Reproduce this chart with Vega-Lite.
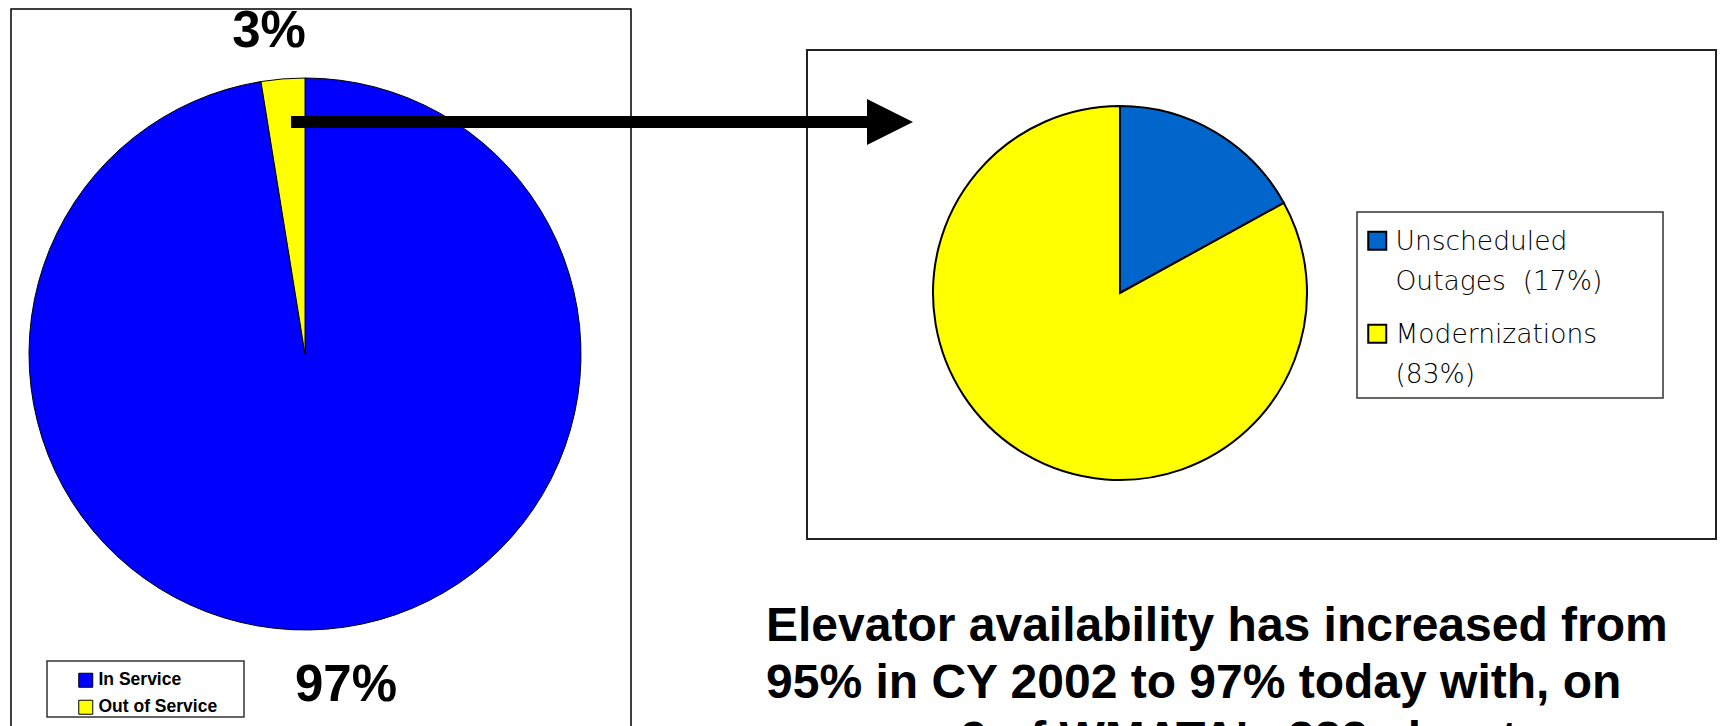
{
  "$schema": "https://vega.github.io/schema/vega-lite/v6.json",
  "width": 1721,
  "height": 726,
  "autosize": {"type": "none"},
  "padding": 0,
  "background": "white",
  "config": {"view": {"stroke": null}},
  "datasets": {
    "service": [
      {"status": "In Service", "share": 0.9745},
      {"status": "Out of Service", "share": 0.0255}
    ],
    "outages": [
      {"cause": "Unscheduled Outages", "share": 0.17},
      {"cause": "Modernizations", "share": 0.83}
    ],
    "note": [{}]
  },
  "resolve": {"scale": {"color": "independent", "theta": "independent"}, "legend": {"color": "independent"}},
  "layer": [
    {
      "data": {"name": "note"},
      "mark": {"type": "rect", "fill": "white", "stroke": "black", "strokeWidth": 1.5},
      "encoding": {
        "x": {"datum": 11, "type": "quantitative", "scale": {"domain": [0, 1721], "nice": false, "zero": false}, "axis": null},
        "x2": {"datum": 631},
        "y": {"datum": 9, "type": "quantitative", "scale": {"domain": [0, 726], "nice": false, "zero": false, "reverse": true}, "axis": null},
        "y2": {"datum": 770}
      }
    },
    {
      "data": {"name": "note"},
      "mark": {"type": "rect", "fill": "white", "stroke": "#222222", "strokeWidth": 2},
      "encoding": {
        "x": {"datum": 807, "type": "quantitative"},
        "x2": {"datum": 1716},
        "y": {"datum": 50, "type": "quantitative"},
        "y2": {"datum": 539}
      }
    },
    {
      "data": {"name": "note"},
      "mark": {"type": "rect", "fill": "white", "stroke": "#333333", "strokeWidth": 1.5},
      "encoding": {
        "x": {"datum": 47, "type": "quantitative"},
        "x2": {"datum": 244},
        "y": {"datum": 661, "type": "quantitative"},
        "y2": {"datum": 717}
      }
    },
    {
      "data": {"name": "note"},
      "mark": {"type": "rect", "fill": "white", "stroke": "#333333", "strokeWidth": 1.5},
      "encoding": {
        "x": {"datum": 1357, "type": "quantitative"},
        "x2": {"datum": 1663},
        "y": {"datum": 212, "type": "quantitative"},
        "y2": {"datum": 398}
      }
    },
    {
      "data": {"name": "service"},
      "mark": {"type": "arc", "radius": 276, "stroke": "black", "strokeWidth": 1},
      "encoding": {
        "theta": {"field": "share", "type": "quantitative", "stack": true},
        "order": {"field": "share", "sort": "descending"},
        "color": {
          "field": "status",
          "type": "nominal",
          "scale": {"domain": ["In Service", "Out of Service"], "range": ["#0000FF", "#FFFF00"]},
          "legend": {
            "title": null,
            "orient": "none",
            "legendX": 77,
            "legendY": 671.5,
            "padding": 0,
            "symbolType": "square",
            "symbolSize": 196,
            "symbolStrokeColor": "black",
            "symbolStrokeWidth": 1,
            "labelFont": "Liberation Sans",
            "labelFontWeight": "bold",
            "labelFontSize": 17.5,
            "labelColor": "black",
            "labelOffset": 4,
            "labelLimit": 300,
            "rowPadding": 8
          }
        },
        "x": {"datum": 305, "type": "quantitative"},
        "y": {"datum": 354, "type": "quantitative"}
      }
    },
    {
      "data": {"name": "outages"},
      "mark": {"type": "arc", "radius": 187, "stroke": "black", "strokeWidth": 2},
      "encoding": {
        "theta": {"field": "share", "type": "quantitative", "stack": true},
        "order": {"field": "share", "sort": "ascending"},
        "color": {
          "field": "cause",
          "type": "nominal",
          "scale": {"domain": ["Unscheduled Outages", "Modernizations"], "range": ["#0066CC", "#FFFF00"]},
          "legend": {
            "title": null,
            "orient": "none",
            "legendX": 1364,
            "legendY": 227.5,
            "padding": 0,
            "symbolType": "square",
            "symbolSize": 324,
            "symbolStrokeColor": "black",
            "symbolStrokeWidth": 2,
            "labelFont": "DejaVu Sans",
            "labelFontWeight": 200,
            "labelFontSize": 26.5,
            "labelColor": "black",
            "labelOffset": 5,
            "labelLimit": 400,
            "labelBaseline": "alphabetic",
            "rowPadding": 24,
            "labelExpr": "datum.label == 'Unscheduled Outages' ? ['Unscheduled', 'Outages\u00a0 (17%)'] : ['Modernizations', '(83%)']",
            "encode": {"labels": {"update": {"dy": {"value": 9.5}, "lineHeight": {"value": 40}}}}
          }
        },
        "x": {"datum": 1120, "type": "quantitative"},
        "y": {"datum": 293, "type": "quantitative"}
      }
    },
    {
      "data": {"name": "note"},
      "mark": {"type": "rule", "stroke": "black", "strokeWidth": 12, "strokeCap": "butt"},
      "encoding": {
        "x": {"datum": 291, "type": "quantitative"},
        "x2": {"datum": 868},
        "y": {"datum": 122, "type": "quantitative"}
      }
    },
    {
      "data": {"name": "note"},
      "mark": {"type": "point", "shape": "M-1,-1L1,0L-1,1Z", "size": 2116, "filled": true, "color": "black", "opacity": 1},
      "encoding": {
        "x": {"datum": 890, "type": "quantitative"},
        "y": {"datum": 122, "type": "quantitative"}
      }
    },
    {
      "data": {"name": "service"},
      "transform": [{"filter": "datum.status == 'Out of Service'"}],
      "mark": {"type": "text", "align": "center", "baseline": "alphabetic", "font": "Liberation Sans", "fontWeight": "bold", "fontSize": 51, "color": "black"},
      "encoding": {
        "text": {"field": "share", "type": "quantitative", "format": ".0%"},
        "x": {"datum": 269, "type": "quantitative"},
        "y": {"datum": 47, "type": "quantitative"}
      }
    },
    {
      "data": {"name": "service"},
      "transform": [{"filter": "datum.status == 'In Service'"}],
      "mark": {"type": "text", "align": "center", "baseline": "alphabetic", "font": "Liberation Sans", "fontWeight": "bold", "fontSize": 51, "color": "black"},
      "encoding": {
        "text": {"field": "share", "type": "quantitative", "format": ".0%"},
        "x": {"datum": 346, "type": "quantitative"},
        "y": {"datum": 701, "type": "quantitative"}
      }
    },
    {
      "data": {"name": "note"},
      "mark": {"type": "text", "align": "left", "baseline": "alphabetic", "font": "Liberation Sans", "fontWeight": "bold", "fontSize": 48, "lineHeight": 57, "color": "black"},
      "encoding": {
        "text": {"value": ["Elevator availability has increased from", "95% in CY 2002 to 97% today with, on", "average 9 of WMATA's 232 elevators"]},
        "x": {"datum": 766, "type": "quantitative"},
        "y": {"datum": 641, "type": "quantitative"}
      }
    }
  ]
}
